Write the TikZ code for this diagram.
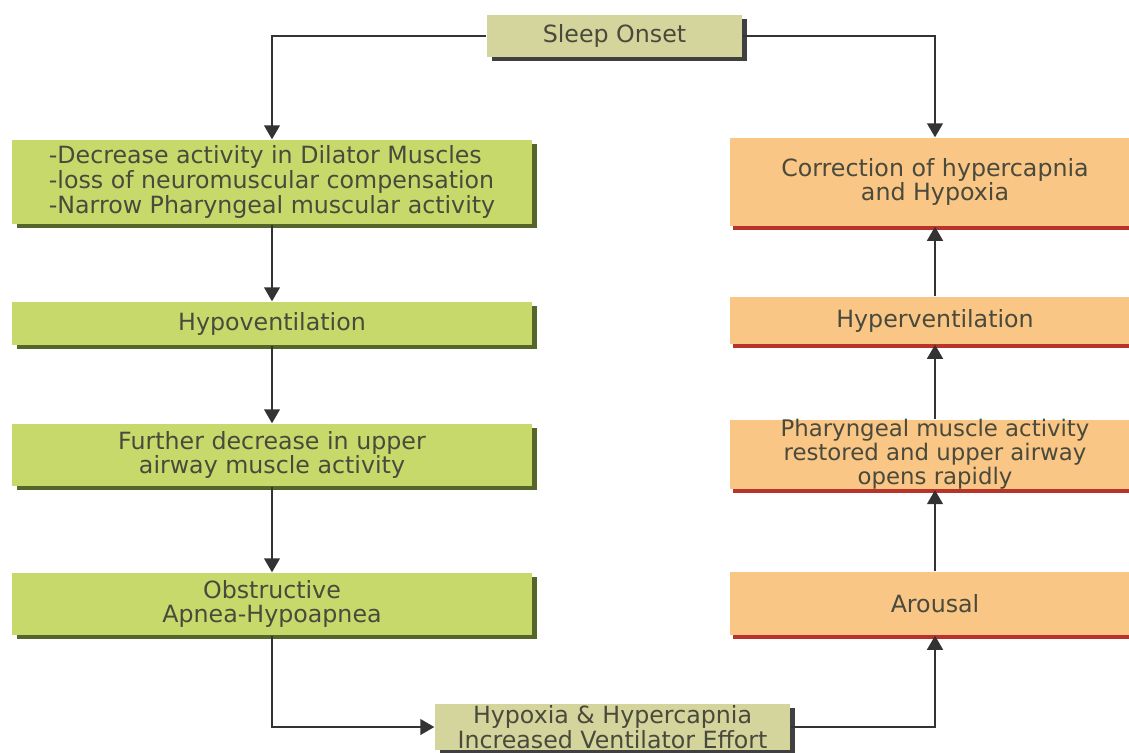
\documentclass[tikz,border=0pt]{standalone}
\usepackage{fontspec}
\setmainfont{DejaVu Sans}
\usetikzlibrary{shapes,calc,positioning,shadows,arrows.meta}
\definecolor{limebox}{HTML}{C8D96C}
\definecolor{limeshade}{HTML}{56662A}
\definecolor{khakibox}{HTML}{D4D59C}
\definecolor{orangebox}{HTML}{F9C685}
\definecolor{redline}{HTML}{B8342A}
\definecolor{txt}{HTML}{4A4A3C}

\begin{document}
\begin{tikzpicture}
[x=0.02cm,y=-0.02cm,thick,
every node/.style={rectangle,align=center,text=txt,font=\fontsize{13.5}{14}\selectfont,inner sep=2pt},
greenbox/.style={fill=limebox,minimum width=10.4cm,
	drop shadow={shadow xshift=3pt,shadow yshift=-2.5pt,fill=limeshade,opacity=1}},
khaki/.style={fill=khakibox,
	drop shadow={shadow xshift=3pt,shadow yshift=-2.5pt,fill=black!75,opacity=1}},
orangebox/.style={fill=orangebox,minimum width=8.2cm,
	drop shadow={shadow xshift=1.5pt,shadow yshift=-2pt,fill=redline,opacity=1}},
arr/.style={draw=black!80,line width=1.1pt,-{Triangle[width=9pt,length=8pt]}}]
\useasboundingbox (0,0) rectangle (1129,752);

\node[khaki,minimum width=5.1cm,minimum height=0.84cm] (onset) at (614.5,36) {Sleep Onset};

% left column
\node[greenbox,minimum height=1.68cm,align=left] (dilator) at (272,182)
	{-Decrease activity in Dilator Muscles\\-loss of neuromuscular compensation\\-Narrow Pharyngeal muscular activity};
\node[greenbox,minimum height=0.86cm] (hypo) at (272,323.5) {Hypoventilation};
\node[greenbox,minimum height=1.24cm] (further) at (272,455) {Further decrease in upper\\airway muscle activity};
\node[greenbox,minimum height=1.24cm] (apnea) at (272,604) {Obstructive\\Apnea-Hypoapnea};

% bottom
\node[khaki,minimum width=7.1cm,minimum height=0.92cm,inner sep=0pt] (effort) at (612.5,727)
	{Hypoxia \& Hypercapnia\\Increased Ventilator Effort};

% right column
\node[orangebox,minimum height=0.94cm] (hyper) at (935,320.5) {Hyperventilation};
\node[orangebox,minimum height=1.76cm] (correct) at (935,182) {Correction of  hypercapnia\\and Hypoxia};
\node[orangebox,minimum height=1.3cm,inner sep=0pt,font=\fontsize{13}{11.5}\selectfont] (restore) at (935,454.5)
	{Pharyngeal muscle activity\\restored and upper airway\\opens rapidly};
\node[orangebox,minimum height=1.26cm] (arousal) at (935,603.5) {Arousal};

\draw[arr] (onset.west) -| (dilator.north);
\draw[arr] (onset.east) -| (correct.north);
\draw[arr] (dilator) -- (hypo);
\draw[arr] (hypo) -- (further);
\draw[arr] (further) -- (apnea);
\draw[arr] (apnea.south) |- (effort.west);
\draw[arr] (effort.east) -| (arousal.south);
\draw[arr] (arousal) -- (restore);
\draw[arr] (restore) -- (hyper);
\draw[arr] (hyper) -- (correct);
\end{tikzpicture}
\end{document}
